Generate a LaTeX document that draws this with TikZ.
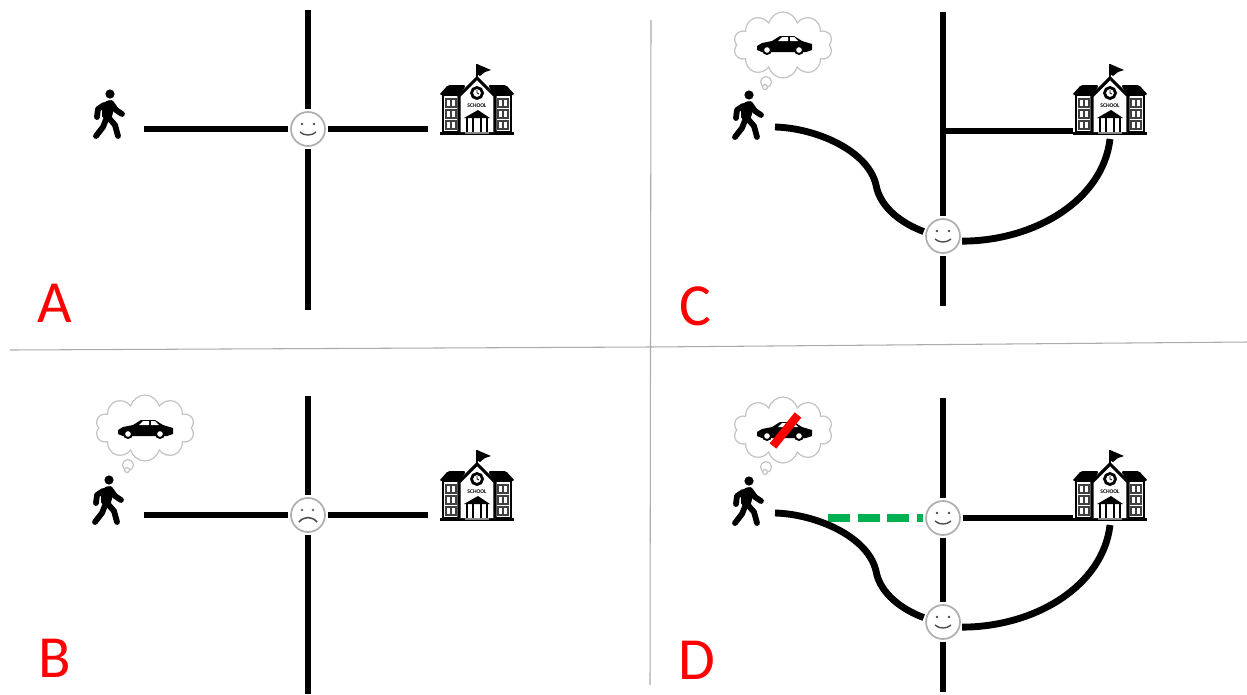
\documentclass[tikz,border=0pt]{standalone}
\usepackage{fontspec}
\usepackage{xcolor}
\setmainfont{Carlito}
\usetikzlibrary{shapes.symbols}
\definecolor{sepgray}{HTML}{ABABAB}
\definecolor{puff}{HTML}{C4C4C4}
\definecolor{facegray}{HTML}{B0B0B0}
\definecolor{lane}{HTML}{00B050}
\tikzset{
  lab/.style={text=red, font=\fontsize{34}{34}\selectfont},
  sep/.style={draw=sepgray, line width=0.6pt},
  road/.style={draw=black, line width=3.4pt},
  newRoad/.style={draw=black, line width=3.9pt},
  newLane/.style={draw=lane, line width=4.3pt, dash pattern=on 12.5pt off 4.4pt},
  ban/.style={draw=red, line width=4.8pt},
  limb/.style={line width=3.3pt, line cap=round, line join=round},
  face/.style={circle, draw=facegray, fill=white, line width=1pt, minimum size=0.68cm, inner sep=0pt, outer sep=1.6pt},
  bubble/.style={cloud, cloud puffs=10, cloud ignores aspect, draw=puff, fill=white, line width=0.7pt, minimum width=1.98cm, minimum height=1.32cm, inner sep=0pt},
  walker/.pic={
    \fill (0,0) circle (4.6);
    \fill[rounded corners=1pt] (-3,6) -- (3,7) -- (4,15) -- (1,26) -- (-8,24) -- (-8,12) -- cycle;
    \draw[limb] (-6,11) -- (-12,15) -- (-13,23);
    \draw[limb] (1,9) -- (6,16) -- (12,20);
    \draw[limb] (-3,23) -- (-7,33) -- (-14,42);
    \draw[limb] (-2,23) -- (5,31) -- (8,42);
  },
  school/.pic={
    \fill (-37,-3) rectangle (37,0);
    \fill[gray] (-12,-3) rectangle (12,-1);
    % side wings
    \foreach \wx in {-26,26} {
      \draw[line width=1pt, fill=white] (\wx-8,-40) rectangle (\wx+8,-3);
      \foreach \wy in {-36,-25,-14} {
        \draw[line width=0.8pt, draw=black!75] (\wx-5,\wy) rectangle (\wx+5,\wy+8);
        \draw[line width=0.6pt, draw=black!75] (\wx,\wy) -- (\wx,\wy+8);
      }
    }
    \fill[rounded corners=1pt] (-38,-40) -- (-29,-50) -- (-11,-50) -- (-17,-40) -- cycle;
    \fill[rounded corners=1pt] (38,-40) -- (29,-50) -- (11,-50) -- (17,-40) -- cycle;
    % central block
    \draw[line width=1.8pt, fill=white] (-18,-3) -- (-18,-39) -- (0,-57) -- (18,-39) -- (18,-3);
    \draw[line width=0.9pt] (0,-58) -- (0,-71);
    \fill (0,-71) -- (14,-65) -- (8,-63) -- (3,-59) -- (0,-61) -- cycle;
    \draw[line width=1.6pt, fill=white] (0,-42) circle (5.5);
    \draw[line width=0.5pt] (0,-45) -- (0,-42) -- (2,-41);
    \node[inner sep=0pt, font=\fontsize{3.2}{3.2}\bfseries\selectfont] (-sign) at (0,-29) {SCHOOL};
    \fill (-13,-17) -- (1,-25) -- (13,-17) -- cycle;
    \foreach \cx in {-10,-4,4,10} {
      \draw[line width=0.8pt] (\cx,-17) -- (\cx,-3);
    }
  },
  car/.pic={
    \fill (-27,1) -- (-22,-2) -- (-12,-4) -- (-4,-9) -- (10,-9) -- (18,-4) -- (28,-1) -- (28,5) -- (22,7) -- (-22,7) -- (-27,5) -- cycle;
    \fill[white] (-6,-4) -- (-2,-8) -- (4,-8) -- (4,-4) -- cycle;
    \fill[white] (6,-4) -- (6,-8) -- (10,-8) -- (14,-4) -- cycle;
    \foreach \tx in {-17,15} {
      \fill (\tx,5) circle (5);
      \fill[white] (\tx,5) circle (2.8);
    }
  },
  thought/.pic={
    \node[bubble] (-main) at (0,0) {};
    \draw[puff, line width=0.7pt, fill=white] (-17,37) circle (5.5);
    \draw[puff, line width=0.7pt, fill=white] (-18,42) circle (2.5);
  },
  smile/.pic={
    \fill[black!70] (-6,-5) circle (1.3);
    \fill[black!70] (6,-5) circle (1.3);
    \draw[black!70, line width=0.8pt] (-8,3) .. controls (-4,7) and (4,7) .. (8,3);
  },
  frown/.pic={
    \fill[black!60] (-6,-5) circle (1.3);
    \fill[black!60] (5,-5) circle (1.3);
    \draw[black!70, line width=0.9pt] (-9,7) .. controls (-4,1) and (4,1) .. (9,7);
  }
}
\begin{document}
\begin{tikzpicture}[x=0.02cm,y=-0.02cm]
\useasboundingbox (0,0) rectangle (1247,694);
% panel separators
\coordinate (sepL) at (10,350);
\coordinate (sepM) at (650,347);
\coordinate (sepR) at (1247,342);
\coordinate (sepT) at (651,20);
\coordinate (sepB) at (650,685);
\draw[sep] (sepL) -- (sepM) -- (sepR);
\draw[sep] (sepT) -- (sepB);

% panel A
\node[face] (jA) at (308,129) {};
\pic at (jA) {smile};
\coordinate (nA) at (308,10);
\coordinate (sA) at (308,310);
\coordinate (wA) at (144,129);
\coordinate (eA) at (428,129);
\draw[road] (nA) -- (jA);
\draw[road] (jA) -- (sA);
\draw[road] (wA) -- (jA);
\draw[road] (jA) -- (eA);
\pic at (110,94) {walker};
\pic (schoolA) at (477,135) {school};
\node[lab] (labA) at (55,303) {A};

% panel B
\node[face] (jB) at (308,515) {};
\pic at (jB) {frown};
\coordinate (nB) at (308,396);
\coordinate (sB) at (308,694);
\coordinate (wB) at (144,515);
\coordinate (eB) at (428,515);
\draw[road] (nB) -- (jB);
\draw[road] (jB) -- (sB);
\draw[road] (wB) -- (jB);
\draw[road] (jB) -- (eB);
\pic at (109,480) {walker};
\pic (schoolB) at (477,521) {school};
\pic (dreamB) at (145,428) {thought};
\pic at (145,429) {car};
\node[lab] (labB) at (55,658) {B};

% panel C
\node[face] (jC) at (943,236) {};
\pic at (jC) {smile};
\coordinate (nC) at (943,12);
\coordinate (sC) at (943,306);
\coordinate (tC) at (943,131);
\coordinate (eC) at (1073,131);
\coordinate (wC) at (775,127);
\coordinate (fC) at (1110,139);
\draw[road] (nC) -- (jC);
\draw[road] (jC) -- (sC);
\draw[road] (tC) -- (eC);
\draw[newRoad] (wC) .. controls (815,128) and (868,150) .. (876,185) .. controls (880,208) and (903,224) .. (jC.167);
\draw[newRoad] (jC.-15) .. controls (1035,241) and (1103,200) .. (fC);
\pic at (749,95) {walker};
\pic (schoolC) at (1110,135) {school};
\pic (dreamC) at (783,45) {thought};
\pic at (784,45) {car};
\node[lab] (labC) at (695,306) {C};

% panel D
\node[face] (jD) at (943,518) {};
\node[face] (kD) at (943,622) {};
\pic at (jD) {smile};
\pic at (kD) {smile};
\coordinate (nD) at (943,398);
\coordinate (sD) at (943,692);
\coordinate (eD) at (1073,518);
\coordinate (dD) at (828,518);
\coordinate (wD) at (775,513);
\coordinate (fD) at (1110,525);
\draw[road] (nD) -- (jD);
\draw[road] (jD) -- (kD);
\draw[road] (kD) -- (sD);
\draw[road] (jD) -- (eD);
\draw[newLane] (dD) -- (jD);
\draw[newRoad] (wD) .. controls (815,514) and (868,536) .. (876,571) .. controls (880,594) and (903,610) .. (kD.167);
\draw[newRoad] (kD.-15) .. controls (1035,627) and (1103,586) .. (fD);
\pic at (749,481) {walker};
\pic (schoolD) at (1110,521) {school};
\pic (dreamD) at (783,430) {thought};
\pic at (784,431) {car};
\coordinate (banA) at (773,446);
\coordinate (banB) at (798,415);
\draw[ban] (banA) -- (banB);
\node[lab] (labD) at (697,660) {D};
\end{tikzpicture}
\end{document}
